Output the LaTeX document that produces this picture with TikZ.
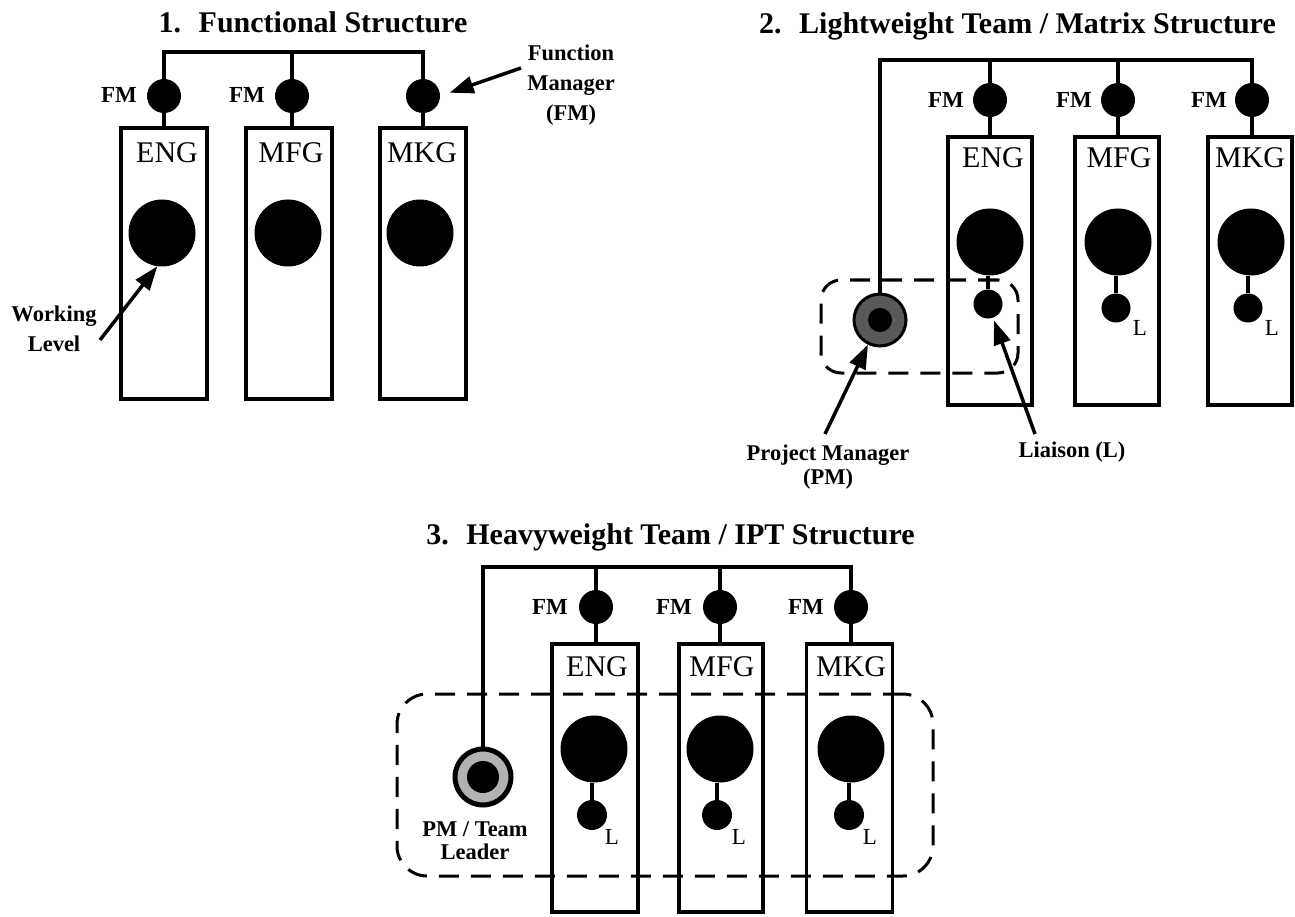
\documentclass[tikz,border=0pt]{standalone}
\usepackage{fontspec}
\setmainfont{Liberation Serif}
\usetikzlibrary{arrows.meta}
\begin{document}
\begin{tikzpicture}[x=1pt,y=-1pt,
  ln/.style={line width=3.2pt},
  unit/.style={draw, line width=3.2pt, minimum width=86pt, minimum height=268pt, inner sep=0pt},
  fmc/.style={circle, fill=black, inner sep=0pt, minimum size=34pt},
  bigc/.style={circle, fill=black, inner sep=0pt, minimum size=67pt},
  smc/.style={circle, fill=black, inner sep=0pt, minimum size=30pt},
  ttl/.style={font=\fontsize{30}{34}\selectfont\bfseries, inner sep=0pt, anchor=base},
  dept/.style={font=\fontsize{30}{32}\selectfont, inner sep=0pt},
  fmlab/.style={font=\fontsize{23}{24}\selectfont\bfseries, inner sep=0pt},
  lab/.style={font=\fontsize{22.5}{30}\selectfont\bfseries, align=center, inner sep=0pt},
  labt/.style={font=\fontsize{22.5}{23}\selectfont\bfseries, align=center, inner sep=0pt},
  llab/.style={font=\fontsize{23}{24}\selectfont, inner sep=0pt},
  arr/.style={line width=3.5pt, -{Triangle[length=24pt,width=17pt]}},
  team/.style={draw, line width=3pt, dash pattern=on 20pt off 12pt, rounded corners=25pt, inner sep=0pt},
  pmring/.style={circle, draw=black, inner sep=0pt},
  pmcore/.style={circle, fill=black, inner sep=0pt},
]
\useasboundingbox (0,0) rectangle (1295,917);

% ================= 1. Functional Structure =================
\node[ttl] (t1) at (313,33) {1.~ Functional Structure};
\node[unit, minimum height=271pt] (b11) at (164,263.5) {};
\node[unit, minimum height=271pt] (b12) at (289,263.5) {};
\node[unit, minimum height=271pt] (b13) at (423,263.5) {};
\node[dept] (d11) at (167,153) {ENG};
\node[dept] (d12) at (291,153) {MFG};
\node[dept] (d13) at (422,153) {MKG};
\node[fmc] (fm11) at (164,96) {};
\node[fmc] (fm12) at (292,96) {};
\node[fmc] (fm13) at (423,96) {};
\node[fmlab] (f11) at (119,95) {FM};
\node[fmlab] (f12) at (247,95) {FM};
\node[bigc] (g11) at (162,233) {};
\node[bigc] (g12) at (288,233) {};
\node[bigc] (g13) at (420,233) {};
\coordinate (bar1) at (292,52);
\draw[ln] (fm11.north) |- (bar1) -| (fm13.north);
\draw[ln] (fm12.north) -- (bar1);
\draw[ln] (fm11.south) -- (fm11 |- b11.north);
\draw[ln] (fm12.south) -- (fm12 |- b12.north);
\draw[ln] (fm13.south) -- (fm13 |- b13.north);
\node[lab] (wl) at (54,329) {Working\\Level};
\coordinate (wlt) at (100,340);
\draw[arr] (wlt) -- (g11.262);
\node[lab] (fml) at (571,85) {Function\\Manager\\(FM)};
\coordinate (fmt) at (521,68);
\draw[arr, shorten >=10pt] (fmt) -- (fm13.east);

% ================= 2. Lightweight Team / Matrix =================
\node[ttl] (t2) at (1017.5,34) {2.~ Lightweight Team / Matrix Structure};
\node[team, minimum width=197pt, minimum height=93pt, rounded corners=20pt] (tm2) at (919.5,326.5) {};
\node[unit, minimum width=84pt] (b21) at (990,271) {};
\node[unit, minimum width=84pt] (b22) at (1117,271) {};
\node[unit, minimum width=84pt] (b23) at (1250,271) {};
\node[dept] (d21) at (993,158) {ENG};
\node[dept] (d22) at (1119,158) {MFG};
\node[dept] (d23) at (1250,158) {MKG};
\node[fmc] (fm21) at (990,100) {};
\node[fmc] (fm22) at (1118,100) {};
\node[fmc] (fm23) at (1252,100) {};
\node[fmlab] (f21) at (946,100) {FM};
\node[fmlab] (f22) at (1074,100) {FM};
\node[fmlab] (f23) at (1209,100) {FM};
\node[bigc] (g21) at (990,242) {};
\node[bigc] (g22) at (1118,242) {};
\node[bigc] (g23) at (1251,242) {};
\node[smc, minimum size=29pt] (l21) at (988,304) {};
\node[smc, minimum size=29pt] (l22) at (1116,308) {};
\node[smc, minimum size=29pt] (l23) at (1248,308) {};
\node[llab] (ll22) at (1140,328) {L};
\node[llab] (ll23) at (1272,328) {L};
\node[pmring, line width=3pt, fill=black!65, minimum size=52pt] (pm2) at (880,320) {};
\node[pmcore, minimum size=24pt] (pm2c) at (880,320) {};
\coordinate (bar2) at (990,60);
\draw[ln] (pm2.north) |- (bar2) -| (fm23.north);
\draw[ln] (fm21.north) -- (bar2);
\draw[ln] (fm22.north) -- (fm22 |- bar2);
\draw[ln] (fm21.south) -- (fm21 |- b21.north);
\draw[ln] (fm22.south) -- (fm22 |- b22.north);
\draw[ln] (fm23.south) -- (fm23 |- b23.north);
\draw[ln] (l21.north) -- (l21 |- g21.south);
\draw[ln] (l22.north) -- (l22 |- g22.south);
\draw[ln] (l23.north) -- (l23 |- g23.south);
\node[labt, font=\fontsize{22.5}{24}\selectfont\bfseries] (pml) at (828,467) {Project Manager\\(PM)};
\coordinate (pmt) at (825,434);
\draw[arr] (pmt) -- (pm2.244);
\node[lab] (lil) at (1072,452) {Liaison (L)};
\coordinate (lit) at (1035,434);
\draw[arr, shorten >=3pt] (lit) -- (l21.290);

% ================= 3. Heavyweight Team / IPT =================
\node[ttl] (t3) at (670.5,544) {3.~ Heavyweight Team / IPT Structure};
\node[team, minimum width=536pt, minimum height=182pt, rounded corners=30pt] (tm3) at (665,785) {};
\node[unit] (b31) at (595,778) {};
\node[unit, minimum width=84pt] (b32) at (721,778) {};
\node[unit] (b33) at (849.5,778) {};
\node[dept] (d31) at (597,667) {ENG};
\node[dept] (d32) at (722,667) {MFG};
\node[dept] (d33) at (851,667) {MKG};
\node[fmc] (fm31) at (596,607) {};
\node[fmc] (fm32) at (720,607) {};
\node[fmc] (fm33) at (851,607) {};
\node[fmlab] (f31) at (550,607) {FM};
\node[fmlab] (f32) at (674,607) {FM};
\node[fmlab] (f33) at (806,607) {FM};
\node[bigc] (g31) at (594,749) {};
\node[bigc] (g32) at (720,749) {};
\node[bigc] (g33) at (851,749) {};
\node[smc] (l31) at (592,815) {};
\node[smc] (l32) at (717,815) {};
\node[smc] (l33) at (849,815) {};
\node[llab] (ll31) at (612,837) {L};
\node[llab] (ll32) at (739,837) {L};
\node[llab] (ll33) at (870,837) {L};
\node[pmring, line width=5pt, fill=black!30, minimum size=56pt] (pm3) at (483,777) {};
\node[pmcore, minimum size=32pt] (pm3c) at (483,777) {};
\coordinate (bar3) at (596,567);
\draw[ln] (pm3.north) |- (bar3) -| (fm33.north);
\draw[ln] (fm31.north) -- (bar3);
\draw[ln] (fm32.north) -- (fm32 |- bar3);
\draw[ln] (fm31.south) -- (fm31 |- b31.north);
\draw[ln] (fm32.south) -- (fm32 |- b32.north);
\draw[ln] (fm33.south) -- (fm33 |- b33.north);
\draw[ln] (l31.north) -- (l31 |- g31.south);
\draw[ln] (l32.north) -- (l32 |- g32.south);
\draw[ln] (l33.north) -- (l33 |- g33.south);
\node[labt, font=\fontsize{22.5}{23}\selectfont\bfseries] (pml3) at (475,841) {PM / Team\\Leader};
\end{tikzpicture}
\end{document}
